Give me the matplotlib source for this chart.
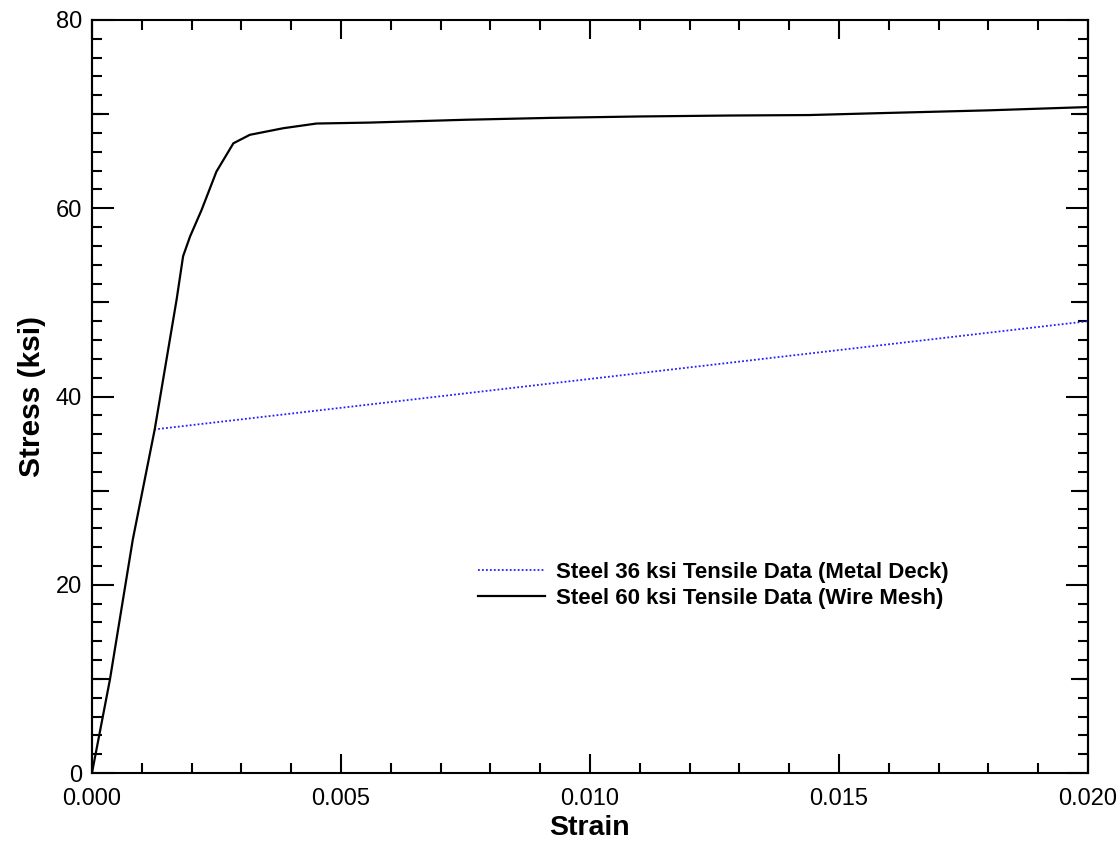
import numpy as np
import matplotlib
matplotlib.use("Agg")
import matplotlib.pyplot as plt
from matplotlib.ticker import MultipleLocator, FixedLocator, NullFormatter

plt.rcParams["font.family"] = ["Liberation Sans", "DejaVu Sans"]

# Steel 60 ksi (wire mesh) curve
strain_60 = [0.0, 0.00036, 0.00082, 0.00126, 0.0017, 0.00183, 0.00197, 0.0022,
             0.0025, 0.00284, 0.00317, 0.00384, 0.00451, 0.00558, 0.0075,
             0.0092, 0.0110, 0.0128, 0.0144, 0.0158, 0.0180, 0.0200]
stress_60 = [0.0, 9.9, 24.8, 36.5, 50.3, 54.9, 57.0, 59.8,
             63.9, 66.9, 67.8, 68.5, 69.0, 69.1, 69.4,
             69.6, 69.75, 69.85, 69.9, 70.1, 70.4, 70.75]

# Steel 36 ksi (metal deck) curve
strain_36 = [0.00125, 0.020]
stress_36 = [36.5, 48.0]

label_36 = "Steel 36 ksi Tensile Data (Metal Deck)"
label_60 = "Steel 60 ksi Tensile Data (Wire Mesh)"

fig = plt.figure(figsize=(11.2, 8.43), dpi=100)
ax = fig.add_axes([0.0821, 0.0830, 0.8893, 0.8933])

ax.plot(strain_36, stress_36, color="#2020ff", linestyle=(0, (1, 1.2)), linewidth=1.3, label=label_36)
ax.plot(strain_60, stress_60, color="black", linewidth=1.6, label=label_60)

ax.set_xlim(0, 0.02)
ax.set_ylim(0, 80)
ax.xaxis.set_major_locator(MultipleLocator(0.005))
ax.xaxis.set_minor_locator(MultipleLocator(0.001))
ax.yaxis.set_major_locator(MultipleLocator(20))
ax.yaxis.set_minor_locator(MultipleLocator(2))
ax.xaxis.set_major_formatter(plt.FuncFormatter(lambda v, p: f"{v:.3f}"))

for s in ax.spines.values():
    s.set_linewidth(1.5)

ax.tick_params(which="both", direction="in", top=True, right=True, width=1.5, labelsize=17)
ax.tick_params(axis="x", which="major", length=14, pad=10.5)
ax.tick_params(axis="x", which="minor", length=7)
ax.tick_params(axis="y", which="major", length=16, pad=7)
ax.tick_params(axis="y", which="minor", length=7.5)

# medium ticks at 10, 30, 50, 70
for side in ["left", "right"]:
    sec = ax.secondary_yaxis(side)
    sec.yaxis.set_major_locator(FixedLocator([10, 30, 50, 70]))
    sec.yaxis.set_major_formatter(NullFormatter())
    sec.yaxis.set_minor_locator(FixedLocator([]))
    sec.tick_params(direction="in", length=12, width=1.5)
    sec.spines[side].set_linewidth(1.5)

ax.set_xlabel("Strain", fontsize=20.5, fontweight="bold", labelpad=4)
ax.set_ylabel("Stress (ksi)", fontsize=21.5, fontweight="bold", labelpad=7)

ax.legend(loc="upper left", bbox_to_anchor=(0.3876, 0.280), frameon=False,
          prop={"size": 16, "weight": "bold"}, handlelength=3.0, handletextpad=0.5,
          borderpad=0, borderaxespad=0, labelspacing=0.2)

fig.savefig("out.png", dpi=100)
